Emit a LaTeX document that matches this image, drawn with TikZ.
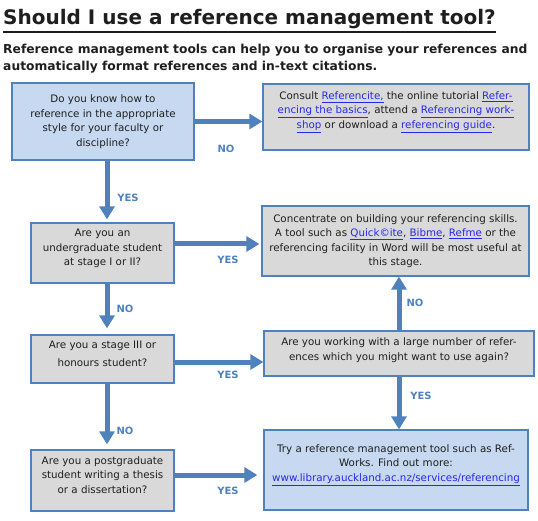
\documentclass[tikz,border=0pt]{standalone}
\usepackage{fontspec}
\setmainfont{DejaVu Sans}
\usetikzlibrary{arrows.meta, positioning}

\definecolor{flowblue}{RGB}{79,129,189}
\definecolor{boxblue}{RGB}{198,217,241}
\definecolor{boxgray}{RGB}{217,217,217}
\definecolor{linkblue}{RGB}{40,40,235}
\definecolor{bodytext}{RGB}{30,30,30}
\newcommand{\lnk}[1]{\textcolor{linkblue}{\underline{#1}}}

\tikzset{
  qbox/.style={draw=flowblue, line width=1.3pt, fill=boxgray, align=center, inner sep=0pt, text=bodytext, font=\fontsize{10.3}{14.5}\selectfont},
  abox/.style={qbox, fill=boxblue},
  flow/.style={draw=flowblue, line width=5pt, -{Triangle[length=13pt,width=15pt]}},
  lbl/.style={text=flowblue, inner sep=0pt, font=\bfseries\fontsize{10}{12}\selectfont},
}

\begin{document}
\begin{tikzpicture}[x=1pt, y=-1pt]
    \useasboundingbox (0,0) rectangle (538,521);

    % Heading
    \node[anchor=base west, inner sep=0pt, text=bodytext, font=\bfseries\fontsize{20}{22}\selectfont] (title) at (3,25) {Should I use a reference management tool?};
    \draw[line width=2pt, bodytext] ([yshift=-6.7pt]title.base west) -- ([yshift=-6.7pt]title.base east);
    \node[anchor=north west, inner sep=0pt, align=left, text=bodytext, font=\bfseries\fontsize{12.3}{17}\selectfont] (intro) at (3,43.5) {Reference management tools can help you to organise your references and\\automatically format references and in-text citations.};

    % Questions
    \node[abox, minimum width=182pt, minimum height=77pt] (know) at (103,121.5) {Do you know how to\\reference in the appropriate\\style for your faculty or\\discipline?};
    \node[qbox, minimum width=143pt, minimum height=60pt] (under) at (102.5,253) {Are you an\\undergraduate student\\at stage I or II?\\[-3pt]\mbox{}};
    \node[qbox, minimum width=143pt, minimum height=48pt] (honours) at (102.5,359) {Are you a stage III or\\[3.5pt]honours student?\\[-4pt]\mbox{}};
    \node[qbox, minimum width=143pt, minimum height=61pt] (post) at (102.5,480.5) {Are you a postgraduate\\student writing a thesis\\or a dissertation?\\[-3pt]\mbox{}};
    \node[qbox, minimum width=270pt, minimum height=45pt] (many) at (399,353.5) {Are you working with a large number of refer-\\ences which you might want to use again?\\[-6pt]\mbox{}};

    % Advice
    \node[qbox, minimum width=266pt, minimum height=66pt] (consult) at (396,117) {Consult \lnk{Referencite,} the online tutorial \lnk{Refer-}\\\lnk{encing the basics}, attend a \lnk{Referencing work-}\\\lnk{shop} or download a \lnk{referencing guide}.\\\mbox{}};
    \node[qbox, minimum width=267pt, minimum height=70pt] (skills) at (395.5,241) {Concentrate on building your referencing skills.\\A tool such as \lnk{Quick©ite}, \lnk{Bibme}, \lnk{Refme} or the\\referencing facility in Word will be most useful at\\this stage.};
    \node[abox, minimum width=264pt, minimum height=80pt] (tool) at (396,470) {Try a reference management tool such as Ref-\\Works. Find out more:\\\lnk{www.library.auckland.ac.nz/services/referencing}\\\mbox{}};

    % Connectors
    \draw[flow] (know.east) -- (know.east -| consult.west);
    \draw[flow, shorten >=3pt] ([xshift=4pt]know.south) -- ([xshift=4pt]know.south |- under.north);
    \draw[flow, shorten >=2pt] ([yshift=9pt]under.east) -- ([yshift=9pt]under.east -| skills.west);
    \draw[flow, shorten >=6pt] ([xshift=4.5pt]under.south) -- ([xshift=4.5pt]under.south |- honours.north);
    \draw[flow] ([yshift=-3pt]honours.east) -- ([yshift=-3pt]honours.east -| many.west);
    \draw[flow] (many.north) -- (many.north |- skills.south);
    \draw[flow] (many.south) -- (many.south |- tool.north);
    \draw[flow, shorten >=5pt] ([xshift=4.5pt]honours.south) -- ([xshift=4.5pt]honours.south |- post.north);
    \draw[flow, shorten >=6pt] ([yshift=5.5pt]post.east) -- ([yshift=5.5pt]post.east -| tool.west);

    % Answers
    \node[lbl] (no1) at (226,149) {NO};
    \node[lbl] (yes1) at (128,198) {YES};
    \node[lbl] (yes2) at (228,260) {YES};
    \node[lbl] (no2) at (125,309) {NO};
    \node[lbl] (yes3) at (228,375) {YES};
    \node[lbl] (no3) at (415,303) {NO};
    \node[lbl] (yes4) at (421,396) {YES};
    \node[lbl] (no4) at (125,431) {NO};
    \node[lbl] (yes5) at (228,491) {YES};
\end{tikzpicture}
\end{document}
